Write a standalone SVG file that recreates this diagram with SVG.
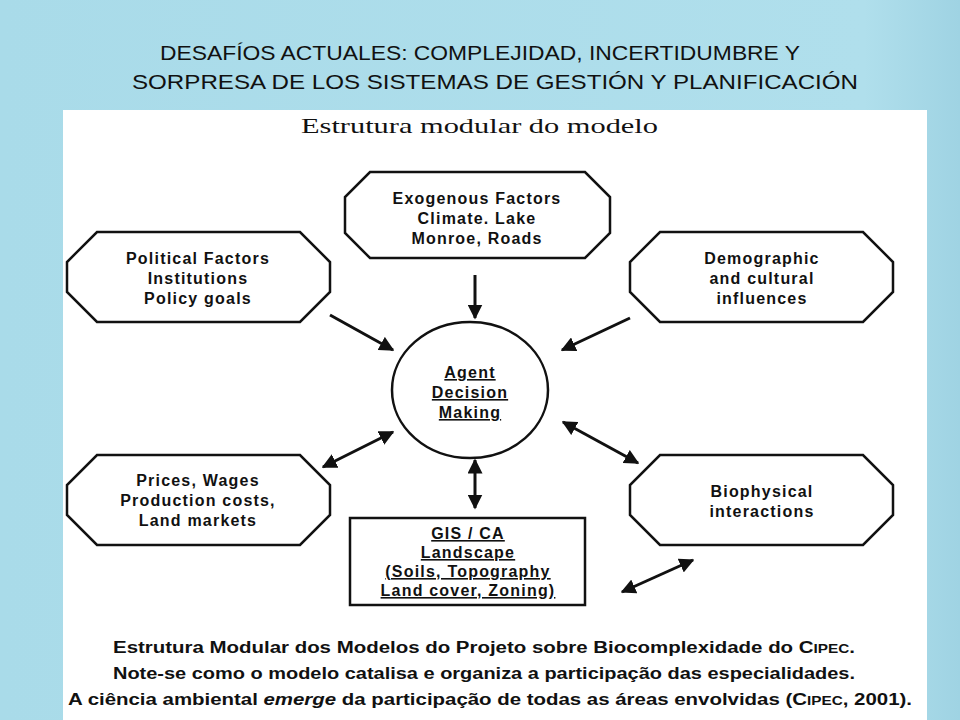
<svg xmlns="http://www.w3.org/2000/svg" width="960" height="720" viewBox="0 0 960 720">
<defs>
<linearGradient id="bg" x1="0" y1="0" x2="1" y2="0"><stop offset="0" stop-color="#a9dbe9"/><stop offset="0.9" stop-color="#b0dfec"/><stop offset="1" stop-color="#9fd3e3"/></linearGradient>
<marker id="ah" viewBox="0 0 10 10" refX="9" refY="5" markerWidth="5" markerHeight="5" orient="auto-start-reverse"><path d="M0,0 L10,5 L0,10 z" fill="#111"/></marker>
<style>
.oct{fill:#fff;stroke:#111;stroke-width:2.5}
.t{font-family:"Liberation Sans",Arial,sans-serif;font-size:16px;font-weight:bold;letter-spacing:1.2px;fill:#111;text-anchor:middle}
.u{text-decoration:underline}
.c line{stroke:#111;stroke-width:3}
.b{font-family:"Liberation Sans",Arial,sans-serif;font-size:16px;font-weight:bold;fill:#111}
</style>
</defs>
<rect width="960" height="720" fill="url(#bg)"/>
<text x="160" y="60" textLength="640" lengthAdjust="spacingAndGlyphs" font-family="Liberation Sans,Arial,sans-serif" font-size="21" fill="#111">DESAFÍOS ACTUALES: COMPLEJIDAD, INCERTIDUMBRE Y</text>
<text x="132" y="89" textLength="726" lengthAdjust="spacingAndGlyphs" font-family="Liberation Sans,Arial,sans-serif" font-size="21" fill="#111">SORPRESA  DE LOS SISTEMAS DE GESTIÓN Y PLANIFICACIÓN</text>
<rect x="63" y="110" width="864" height="610" fill="#fff"/>
<text x="301" y="133" textLength="357" lengthAdjust="spacingAndGlyphs" font-family="Liberation Serif,serif" font-size="21" fill="#111">Estrutura modular do modelo</text>
<g id="exogenous"><polygon class="oct" points="370,172 585,172 610,197 610,233 585,258 370,258 345,233 345,197"/>
<text class="t" x="477" y="204">Exogenous Factors</text><text class="t" x="477" y="224">Climate. Lake</text><text class="t" x="477" y="244">Monroe, Roads</text></g>
<g id="political"><polygon class="oct" points="97,232 300,232 330,262 330,292 300,322 97,322 67,292 67,262"/>
<text class="t" x="198" y="264">Political Factors</text><text class="t" x="198" y="284">Institutions</text><text class="t" x="198" y="304">Policy goals</text></g>
<g id="demographic"><polygon class="oct" points="660,232 863,232 893,262 893,292 863,322 660,322 630,292 630,262"/>
<text class="t" x="762" y="264">Demographic</text><text class="t" x="762" y="284">and cultural</text><text class="t" x="762" y="304">influences</text></g>
<g id="agent"><ellipse cx="470" cy="390" rx="78" ry="68" fill="#fff" stroke="#111" stroke-width="2.5"/>
<text class="t u" x="470" y="378">Agent</text><text class="t u" x="470" y="398">Decision</text><text class="t u" x="470" y="418">Making</text></g>
<g id="prices"><polygon class="oct" points="97,455 300,455 330,485 330,515 300,545 97,545 67,515 67,485"/>
<text class="t" x="198" y="486">Prices, Wages</text><text class="t" x="198" y="506">Production costs,</text><text class="t" x="198" y="526">Land markets</text></g>
<g id="biophysical"><polygon class="oct" points="660,455 863,455 893,485 893,515 863,545 660,545 630,515 630,485"/>
<text class="t" x="762" y="497">Biophysical</text><text class="t" x="762" y="517">interactions</text></g>
<g id="gis"><rect x="350" y="518" width="235" height="87" fill="#fff" stroke="#111" stroke-width="2.5"/>
<text class="t u" x="468" y="539">GIS / CA</text><text class="t u" x="468" y="558">Landscape</text><text class="t u" x="468" y="577">(Soils, Topography</text><text class="t u" x="468" y="596">Land cover, Zoning)</text></g>
<g class="c" id="connectors">
<line x1="475" y1="275" x2="475" y2="318" marker-end="url(#ah)"/>
<line x1="330" y1="315" x2="393" y2="350" marker-end="url(#ah)"/>
<line x1="630" y1="318" x2="562" y2="350" marker-end="url(#ah)"/>
<line x1="323" y1="467" x2="393" y2="432" marker-start="url(#ah)" marker-end="url(#ah)"/>
<line x1="475" y1="460" x2="475" y2="508" marker-start="url(#ah)" marker-end="url(#ah)"/>
<line x1="563" y1="422" x2="638" y2="463" marker-start="url(#ah)" marker-end="url(#ah)"/>
<line x1="622" y1="592" x2="693" y2="560" marker-start="url(#ah)" marker-end="url(#ah)"/>
</g>
<text class="b" x="113" y="653" textLength="742" lengthAdjust="spacingAndGlyphs">Estrutura Modular dos Modelos do Projeto sobre Biocomplexidade do C<tspan font-size="12">IPEC</tspan>.</text>
<text class="b" x="113" y="679" textLength="742" lengthAdjust="spacingAndGlyphs">Note-se como o modelo catalisa e organiza a participação das especialidades.</text>
<text class="b" x="68" y="705" textLength="844" lengthAdjust="spacingAndGlyphs">A ciência ambiental <tspan font-style="italic">emerge</tspan> da participação de todas as áreas envolvidas (C<tspan font-size="12">IPEC</tspan>, 2001).</text>
</svg>
